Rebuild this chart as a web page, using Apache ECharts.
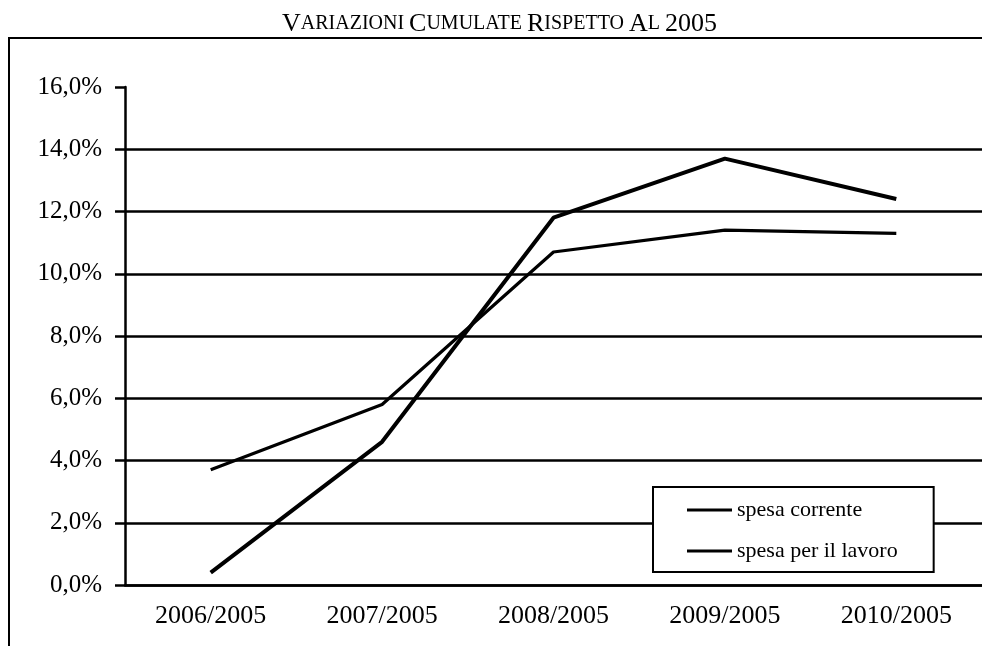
<!DOCTYPE html>
<html>
<head>
<meta charset="utf-8">
<script src="https://cdn.jsdelivr.net/npm/echarts@6/dist/echarts.min.js"></script>
<style>
  html, body { margin: 0; padding: 0; background: #fff; }
  #chart { width: 982px; height: 646px; }
</style>
</head>
<body>
<div id="chart"></div>
<script>
const categories = ['2006/2005', '2007/2005', '2008/2005', '2009/2005', '2010/2005'];
const spesaCorrente = [0.4, 4.6, 11.8, 13.7, 12.4];
const spesaLavoro = [3.7, 5.8, 10.7, 11.4, 11.3];
const seriesNames = ['spesa corrente', 'spesa per il lavoro'];

const serif = '"Liberation Serif", "DejaVu Serif", serif';

const chart = echarts.init(document.getElementById('chart'));

chart.setOption({
    animation: false,
    backgroundColor: '#fff',
    title: {
        text: '{b|V}{s|ARIAZIONI} {b|C}{s|UMULATE} {b|R}{s|ISPETTO} {b|A}{s|L} {b|2005}',
        left: 282,
        top: 11,
        padding: 0,
        textStyle: {
            rich: {
                b: {fontFamily: serif, fontSize: 26, fontWeight: 'normal', color: '#000'},
                s: {fontFamily: serif, fontSize: 20, fontWeight: 'normal', color: '#000'}
            }
        }
    },
    graphic: [{
        type: 'rect',
        shape: {x: 9, y: 38, width: 1000, height: 700},
        style: {fill: 'none', stroke: '#000', lineWidth: 2},
        silent: true
    }],
    grid: {left: 125, top: 87, bottom: 61, width: 865},
    legend: {
        orient: 'vertical',
        left: 653,
        top: 487,
        padding: [12, 36, 10, 34],
        icon: 'rect',
        itemWidth: 45,
        itemHeight: 3,
        itemGap: 19,
        itemStyle: {color: '#000'},
        backgroundColor: '#fff',
        borderColor: '#000',
        borderWidth: 2,
        textStyle: {fontFamily: serif, fontSize: 22, color: '#000', lineHeight: 22},
        data: seriesNames
    },
    xAxis: {
        type: 'category',
        data: categories,
        boundaryGap: true,
        axisLine: {lineStyle: {color: '#000', width: 2.5}},
        axisTick: {length: 5, lineStyle: {color: '#000', width: 2}},
        axisLabel: {margin: 18, fontFamily: serif, fontSize: 26, color: '#000'}
    },
    yAxis: {
        type: 'value',
        min: 0,
        max: 16,
        interval: 2,
        axisLine: {show: true, lineStyle: {color: '#000', width: 2.5}},
        axisTick: {show: true, length: 10, lineStyle: {color: '#000', width: 2.5}},
        axisLabel: {
            margin: 23,
            fontFamily: serif,
            fontSize: 25,
            color: '#000',
            formatter: v => v.toFixed(1).replace('.', ',') + '%'
        },
        splitLine: {show: true, showMaxLine: false, lineStyle: {color: '#000', width: 2.5}}
    },
    series: [
        {
            name: seriesNames[0],
            type: 'line',
            data: spesaCorrente,
            symbol: 'none',
            itemStyle: {color: '#000'},
            lineStyle: {color: '#000', width: 4}
        },
        {
            name: seriesNames[1],
            type: 'line',
            data: spesaLavoro,
            symbol: 'none',
            itemStyle: {color: '#000'},
            lineStyle: {color: '#000', width: 3.2}
        }
    ]
});
</script>
</body>
</html>
